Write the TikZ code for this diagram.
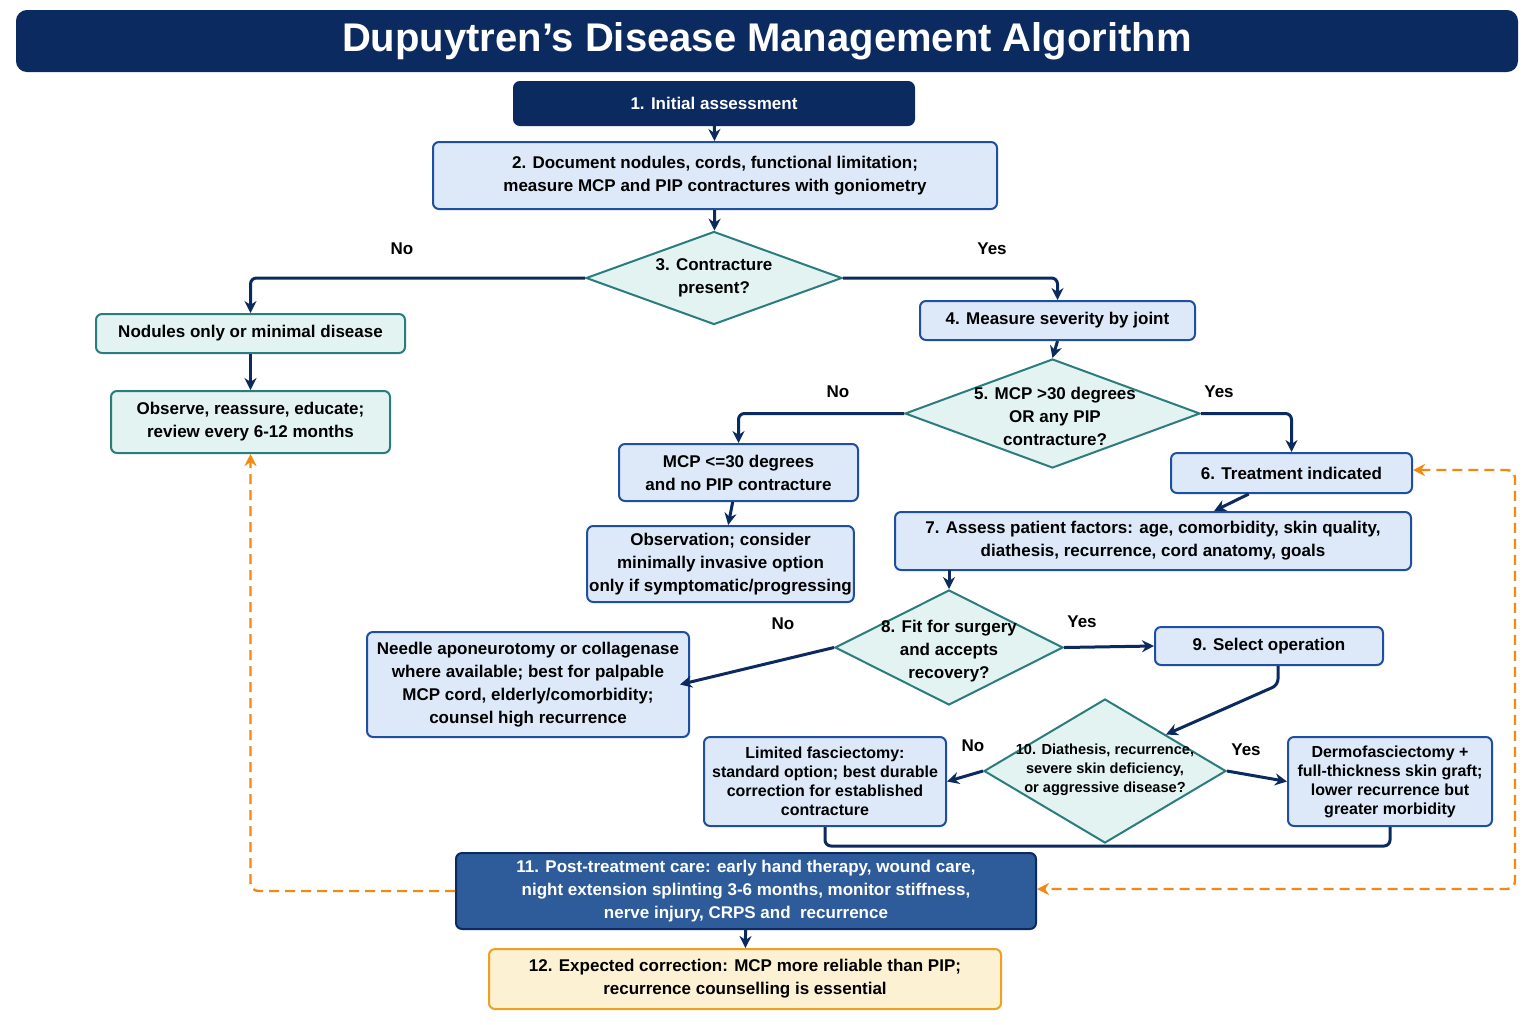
\documentclass[tikz,border=0pt]{standalone}
\usepackage{fontspec}
\setmainfont{Liberation Sans}
\usetikzlibrary{shapes.geometric,arrows.meta}
\definecolor{navy}{HTML}{0B2A60}
\definecolor{bborder}{HTML}{1E4FA0}
\definecolor{bfill}{HTML}{DDE9F9}
\definecolor{tborder}{HTML}{2B7D7D}
\definecolor{tfill}{HTML}{E3F3F2}
\definecolor{midblue}{HTML}{2E5C9A}
\definecolor{orng}{HTML}{F08A10}
\definecolor{yfill}{HTML}{FDF1D3}
\definecolor{yborder}{HTML}{F0A020}
\tikzset{
 base/.style={rectangle,rounded corners=3pt,align=center,inner sep=1pt,line width=1pt,font=\bfseries\fontsize{8.5}{11.5}\selectfont},
 bluebox/.style={base,draw=bborder,fill=bfill,text=black},
 tealbox/.style={base,draw=tborder,fill=tfill,text=black},
 dia/.style={diamond,draw=tborder,fill=tfill,line width=1pt,inner sep=0pt},
 dtext/.style={align=center,font=\bfseries\fontsize{8.5}{11.5}\selectfont},
 lab/.style={font=\bfseries\fontsize{8.5}{10}\selectfont},
 arr/.style={draw=navy,line width=1.5pt,-{Stealth[length=6pt,width=6pt]},rounded corners=3pt},
 darr/.style={draw=orng,line width=1.2pt,dashed,dash pattern=on 5pt off 3pt,{Stealth[length=6pt,width=6pt]}-{Stealth[length=6pt,width=6pt]},rounded corners=4pt},
}
\begin{document}
\begin{tikzpicture}[x=0.5pt,y=-0.5pt]
\useasboundingbox (0,0) rectangle (1536,1024);
\fill[white] (0,0) rectangle (1536,1024);
\node[base,fill=navy,draw=navy,text=white,minimum width=750pt,minimum height=30pt,font=\bfseries\fontsize{20}{24}\selectfont,rounded corners=5pt] (title) at (767,41) {Dupuytren's Disease Management Algorithm};
\node[base,fill=navy,draw=navy,text=white,minimum width=200pt,minimum height=21.5pt] (n1) at (714,103.5) {1. Initial assessment};
\node[bluebox,minimum width=282pt,minimum height=33.5pt] (n2) at (715,175.5) {2. Document nodules, cords, functional limitation;\\measure MCP and PIP contractures with goniometry};
\node[dia,minimum width=128pt,minimum height=46.5pt] (d3) at (714,278) {};
\node[dtext] (t3) at (714,278) {3. Contracture\\present?};
\node[tealbox,minimum width=154.5pt,minimum height=19.5pt] (nod) at (250.5,333.5) {Nodules only or minimal disease};
\node[tealbox,minimum width=139.5pt,minimum height=31pt] (obs) at (250.5,422) {Observe, reassure, educate;\\review every 6-12 months};
\node[bluebox,minimum width=137.5pt,minimum height=19.5pt] (n4) at (1057.5,320.5) {4. Measure severity by joint};
\node[dia,minimum width=147.5pt,minimum height=54.5pt] (d5) at (1052.5,413.5) {};
\node[dtext] (t5) at (1055,416) {5. MCP >30 degrees\\OR any PIP\\contracture?};
\node[bluebox,minimum width=119.5pt,minimum height=28.5pt] (mcp) at (738.5,472.5) {MCP <=30 degrees\\and no PIP contracture};
\node[bluebox,minimum width=132.5pt,minimum height=38pt] (obs2) at (720.5,564) {Observation; consider\\minimally invasive option\\only if symptomatic/progressing};
\node[bluebox,minimum width=120.5pt,minimum height=20pt] (n6) at (1291.5,473) {6. Treatment indicated};
\node[bluebox,minimum width=258pt,minimum height=29pt] (n7) at (1153,541) {7. Assess patient factors: age, comorbidity, skin quality,\\diathesis, recurrence, cord anatomy, goals};
\node[dia,minimum width=114pt,minimum height=57.5pt] (d8) at (949,647.5) {};
\node[dtext] (t8) at (949,651) {8. Fit for surgery\\and accepts\\recovery?};
\node[bluebox,minimum width=161pt,minimum height=52.5pt] (needle) at (528,684.5) {Needle aponeurotomy or collagenase\\where available; best for palpable\\MCP cord, elderly/comorbidity;\\counsel high recurrence};
\node[bluebox,minimum width=114pt,minimum height=19pt] (n9) at (1269,646) {9. Select operation};
\node[dia,minimum width=121pt,minimum height=72pt] (d10) at (1105,771) {};
\node[dtext,font=\bfseries\fontsize{7.3}{9.5}\selectfont] (t10) at (1105,770) {10. Diathesis, recurrence,\\severe skin deficiency,\\or aggressive disease?};
\node[bluebox,minimum width=121pt,minimum height=44.5pt,font=\bfseries\fontsize{8}{9.5}\selectfont] (lim) at (825,781.5) {Limited fasciectomy:\\standard option; best durable\\correction for established\\contracture};
\node[bluebox,minimum width=102pt,minimum height=44.5pt,font=\bfseries\fontsize{8}{9.5}\selectfont] (derm) at (1390,781.5) {Dermofasciectomy +\\full-thickness skin graft;\\lower recurrence but\\greater morbidity};
\node[base,fill=midblue,draw=navy,text=white,minimum width=290pt,minimum height=38pt] (n11) at (746,891) {11. Post-treatment care: early hand therapy, wound care,\\night extension splinting 3-6 months, monitor stiffness,\\nerve injury, CRPS and\ \ recurrence};
\node[base,fill=yfill,draw=yborder,minimum width=256pt,minimum height=30pt] (n12) at (745,979) {12. Expected correction: MCP more reliable than PIP;\\recurrence counselling is essential};
% labels
\node[lab] (l3n) at (402,249) {No};
\node[lab] (l3y) at (992,249) {Yes};
\node[lab] (l5n) at (838,392) {No};
\node[lab] (l5y) at (1219,392) {Yes};
\node[lab] (l8n) at (783,624) {No};
\node[lab] (l8y) at (1082,622) {Yes};
\node[lab] (l10n) at (973,746) {No};
\node[lab] (l10y) at (1246,750) {Yes};
% edges
\draw[arr] (n1) -- (n2);
\draw[arr] (n2) -- (d3);
\draw[arr] (d3.west) -| (nod.north);
\draw[arr] (d3.east) -| (n4.north);
\draw[arr] (nod) -- (obs);
\draw[arr] (n4.south) -- (d5.north);
\draw[arr] (d5.west) -| (mcp.north);
\draw[arr] (d5.east) -| (n6.north);
\draw[arr] (mcp) -- (obs2);
\draw[arr] (n6) -- (n7);
\coordinate (c7) at (949,570);
\draw[arr] (c7) -- (d8.north);
\draw[arr] (d8.west) -- ([xshift=-5pt]needle.east);
\draw[arr] (d8.east) -- (n9.west);
\coordinate (c9) at (1278,685);
\draw[arr] (n9.south -| c9) -- (c9) -- (d10.north east);
\draw[arr] (d10.west) -- (lim.east);
\draw[arr] (d10.east) -- (derm.east -| derm.west);
\draw[draw=navy,line width=1.5pt,rounded corners=3pt] (lim.south) |- ([yshift=-1pt]d10.south) -| (derm.south);
\draw[arr] (n11) -- (n12);
\draw[darr,{}-{Stealth[length=6pt,width=6pt]}] (n11.west) -| (obs.south);
\coordinate (r1) at (1515,470);
\coordinate (r2) at (1515,889);
\draw[darr] (n6.east |- r1) -- (r1) -- (r2) -- (n11.east |- r2);
\end{tikzpicture}
\end{document}
